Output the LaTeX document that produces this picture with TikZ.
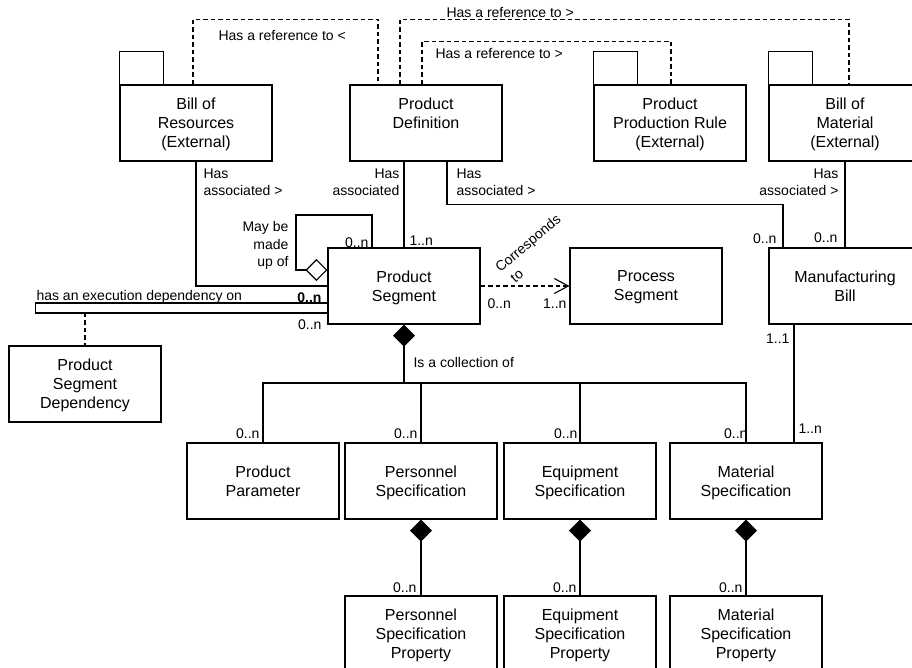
\documentclass[tikz,border=0pt]{standalone}
\usepackage{fontspec}
\setmainfont{Liberation Sans}
\usetikzlibrary{arrows.meta}

\tikzset{
	box/.style={draw, minimum width=152pt, minimum height=76pt, align=center, inner sep=0pt, font=\fontsize{16}{19}\selectfont, text depth=-5pt},
	lbl/.style={inner sep=0pt, font=\fontsize{14}{17.5}\selectfont},
	refline/.style={dash pattern=on 4.5pt off 3pt},
	comp/.style={-{Diamond[length=22pt,width=22pt]}},
	aggr/.style={-{Diamond[open,length=22pt,width=22pt]}},
	dep/.style={-{Straight Barb[length=14pt,width=15pt]}}
}

\begin{document}
\begin{tikzpicture}[x=1pt, y=1pt, line width=1.1pt]
		\useasboundingbox (0,0) rectangle (912,668);
		
		\node[box] (bor) at (196,545) {Bill of\\Resources\\(External)};
		\node[box] (pd) at (426,545) {Product\\Definition\\};
		\node[box] (ppr) at (670,545) {Product\\Production Rule\\(External)};
		\node[box] (bom) at (845,545) {Bill of\\Material\\(External)};
		\node[box] (ps) at (404,382) {Product\\Segment};
		\node[box] (procs) at (646,382) {Process\\Segment};
		\node[box] (mb) at (845,382) {Manufacturing\\Bill};
		\node[box] (psd) at (85,284) {Product\\Segment\\Dependency};
		\node[box] (pp) at (263,187) {Product\\Parameter};
		\node[box] (pers) at (421,187) {Personnel\\Specification};
		\node[box] (eqs) at (580,187) {Equipment\\Specification};
		\node[box] (mats) at (746,187) {Material\\Specification};
		\node[box] (persp) at (421,34) {Personnel\\Specification\\Property};
		\node[box] (eqsp) at (580,34) {Equipment\\Specification\\Property};
		\node[box] (matsp) at (746,34) {Material\\Specification\\Property};
		\foreach \name in {bor,ppr,bom}
			\draw (\name.north west) rectangle ++(44,33);
		
		\draw[refline] ([xshift=-3pt]bor.north) -- ++(0,65) -| ([xshift=-48pt]pd.north);
		\draw[refline] ([xshift=-26pt]pd.north) -- ++(0,65) -| ([xshift=4pt]bom.north);
		\draw[refline] ([xshift=-4pt]pd.north) -- ++(0,43) -| ([xshift=1pt]ppr.north);
		\node[lbl, anchor=base west] (ref1) at (218,627) {Has a reference to <};
		\node[lbl, anchor=base west] (ref2) at (446,650) {Has a reference to >};
		\node[lbl, anchor=base west] (ref3) at (435,609) {Has a reference to >};
		
		\draw (bor.south) |- (ps.west);
		\draw ([xshift=-22pt]pd.south) -- (ps.north);
		\draw ([xshift=21pt]pd.south) -- ++(0,-43) -| ([xshift=-62pt]mb.north);
		\draw (bom.south) -- (mb.north);
		\node[lbl, anchor=north west, align=left] (has1) at (203,500) {Has\\associated >};
		\node[lbl, anchor=north east, align=right] (has2) at (400,500) {Has\\associated};
		\node[lbl, anchor=north west, align=left] (has3) at (456,500) {Has\\associated >};
		\node[lbl, anchor=north east, align=right] (has4) at (839,500) {Has\\associated >};
		
		\coordinate (loop) at (296,453);
		\draw[aggr] ([xshift=-32pt]ps.north) |- (loop) |- ([yshift=16pt]ps.west);
		\node[lbl, anchor=north east, align=right] (made) at (289,447) {May be\\made\\up of};
		
		\draw ([yshift=-17pt]ps.west) -- ++(-292,0) -- ++(0,-10) -- ([yshift=-27pt]ps.west);
		\coordinate (exec) at (85,355);
		\draw[refline] (exec) -- (psd.north);
		\node[lbl, anchor=north west] (execlbl) at (36,378) {has an execution dependency on};
		\node[lbl, anchor=north east, font=\fontsize{14}{17.5}\selectfont\bfseries] (execm) at (322,376) {0..n};
		
		\draw[refline, dep] (ps.east) -- (procs.west);
		\node[lbl, rotate=40, anchor=north west, align=left] (corr) at (493,403) {Corresponds\\\hspace{5pt}to};
		
		\coordinate (hub) at (404,285);
		\draw[comp, line width=1.6pt] (hub) -- (ps.south);
		\foreach \n in {pp,pers,eqs,mats}
			\draw (\n.north) |- (hub);
		\node[lbl, anchor=north west] (coll) at (413,311) {Is a collection of};
		\draw ([xshift=-51pt]mb.south) -- ([xshift=48pt]mats.north);
		\foreach \n/\m in {pers/persp, eqs/eqsp, mats/matsp}
			\draw[comp] (\m.north) -- (\n.south);
		
		\foreach \a/\x/\y/\t [count=\i] in {
			north east/369/431/0..n,
			north west/409/433/1..n,
			north east/322/349/0..n,
			north west/487/370/0..n,
			north east/567/370/1..n,
			north east/777/435/0..n,
			north east/838/436/0..n,
			north east/790/335/1..1,
			north west/798/245/1..n,
			north east/260/240/0..n,
			north east/418/240/0..n,
			north east/578/240/0..n,
			north east/748/240/0..n,
			north east/417/86/0..n,
			north east/577/86/0..n,
			north east/743/86/0..n
		}{
			\node[lbl, anchor=\a] (mult\i) at (\x,\y) {\t};
		}
\end{tikzpicture}
\end{document}
